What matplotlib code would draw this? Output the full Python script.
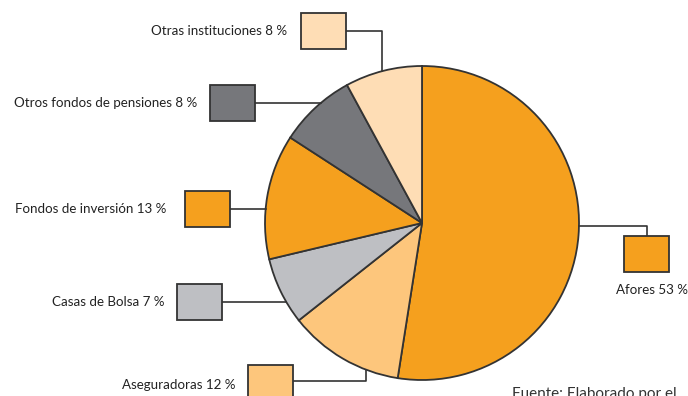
import numpy as np
import matplotlib
matplotlib.use("Agg")
import matplotlib.pyplot as plt
from matplotlib.patches import Rectangle

categories = ["Afores", "Aseguradoras", "Casas de Bolsa", "Fondos de inversión",
              "Otros fondos de pensiones", "Otras instituciones"]
values = [53, 12, 7, 13, 8, 8]
labels = ["Afores 53 %", "Aseguradoras 12 %", "Casas de Bolsa 7 %", "Fondos de inversión 13 %",
          "Otros fondos de pensiones 8 %", "Otras instituciones 8 %"]
colors = ["#F5A01E", "#FDC67C", "#BEBFC3", "#F5A01E", "#76777B", "#FEDDB5"]
source_text = "Fuente: Elaborado por el"

W, H = 688, 396
fig = plt.figure(figsize=(W / 100, H / 100), dpi=100)
ax = fig.add_axes([0, 0, 1, 1])

def Y(y):  # pixel row (top-down) -> data y (bottom-up)
    return H - y

cx, cy, r = 422, 223, 157
edge = "#333333"
ax.pie(values, colors=colors, startangle=90, counterclock=False,
       center=(cx, Y(cy)), radius=r, frame=True,
       wedgeprops=dict(edgecolor=edge, linewidth=1.3))
ax.set_xlim(0, W)
ax.set_ylim(0, H)
ax.set_aspect("equal")
ax.axis("off")

bw, bh = 45, 36
fs = 9.6
font = "Lato"
tc = "#222222"

def circle_x_left(y):
    return cx - np.sqrt(r ** 2 - (y - cy) ** 2)

def circle_y(x, top=True):
    d = np.sqrt(r ** 2 - (x - cx) ** 2)
    return cy - d if top else cy + d

def box(x0, y0, color):
    ax.add_patch(Rectangle((x0, Y(y0 + bh)), bw, bh, facecolor=color,
                           edgecolor=edge, linewidth=1.3, zorder=5))

lw = 1.2
# Otras instituciones (index 5)
bx, by = 301, 13
box(bx, by, colors[5])
ym = by + bh / 2
ax.plot([bx + bw, 382, 382], [Y(ym), Y(ym), Y(circle_y(382, True))], color=edge, lw=lw)
ax.text(287, Y(ym), labels[5], ha="right", va="center", fontsize=fs, family=font, color=tc)

# Otros fondos de pensiones (index 4)
bx, by = 210, 85
box(bx, by, colors[4])
ym = by + bh / 2
ax.plot([bx + bw, circle_x_left(ym)], [Y(ym), Y(ym)], color=edge, lw=lw)
ax.text(197, Y(ym), labels[4], ha="right", va="center", fontsize=fs, family=font, color=tc)

# Fondos de inversión (index 3)
bx, by = 185, 191
box(bx, by, colors[3])
ym = by + bh / 2
ax.plot([bx + bw, circle_x_left(ym)], [Y(ym), Y(ym)], color=edge, lw=lw)
ax.text(166, Y(ym), labels[3], ha="right", va="center", fontsize=fs, family=font, color=tc)

# Casas de Bolsa (index 2)
bx, by = 177, 284
box(bx, by, colors[2])
ym = by + bh / 2
ax.plot([bx + bw, circle_x_left(ym)], [Y(ym), Y(ym)], color=edge, lw=lw)
ax.text(165, Y(ym), labels[2], ha="right", va="center", fontsize=fs, family=font, color=tc)

# Aseguradoras (index 1)
bx, by = 248, 365
box(bx, by, colors[1])
ym = 381
ax.plot([bx + bw, 366, 366], [Y(ym), Y(ym), Y(circle_y(366, False))], color=edge, lw=lw)
ax.text(235, Y(385), labels[1], ha="right", va="center", fontsize=fs, family=font, color=tc)

# Afores (index 0)
bx, by = 624, 236
box(bx, by, colors[0])
ax.plot([cx + r, bx + bw / 2, bx + bw / 2], [Y(226), Y(226), Y(by)], color=edge, lw=lw)
ax.text(652, Y(290), labels[0], ha="center", va="center", fontsize=fs, family=font, color=tc)

ax.text(512, Y(387), source_text, ha="left", va="top", fontsize=11, family=font, color="#333333")

fig.savefig("out.png", dpi=100)
